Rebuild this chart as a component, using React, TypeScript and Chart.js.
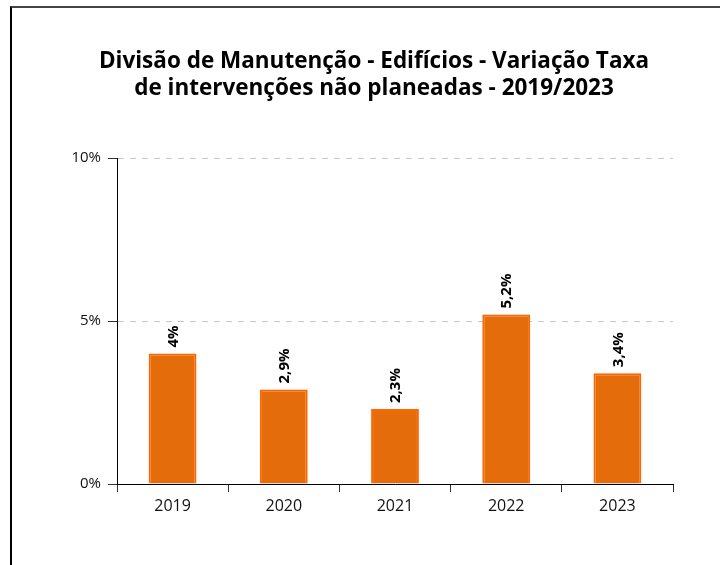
import React, { useEffect, useRef } from "react";
import { Chart, registerables } from "chart.js";

Chart.register(...registerables);

const categories: string[] = ["2019", "2020", "2021", "2022", "2023"];
const values: number[] = [4, 2.9, 2.3, 5.2, 3.4];
const titleLines: string[] = [
  "Divisão de Manutenção - Edifícios - Variação Taxa",
  "de intervenções não planeadas - 2019/2023",
];
const yMin = 0;
const yMax = 10;
const yStep = 5;

const fmt = (v: number) => String(v).replace(".", ",") + "%";

const titlePlugin = {
  id: "customTitle",
  afterDraw(chart: any) {
    const ctx = chart.ctx;
    ctx.save();
    ctx.font = "bold 22.5px 'Open Sans'";
    ctx.fillStyle = "#000";
    ctx.textAlign = "center";
    ctx.textBaseline = "middle";
    ctx.fillText(titleLines[0], 374, 62);
    ctx.fillText(titleLines[1], 374, 89);
    ctx.restore();
  },
};

const labelPlugin = {
  id: "barLabels",
  afterDatasetsDraw(chart: any) {
    const ctx = chart.ctx;
    const meta = chart.getDatasetMeta(0);
    ctx.save();
    ctx.font = "bold 15px 'Open Sans'";
    ctx.fillStyle = "#000";
    ctx.textAlign = "left";
    ctx.textBaseline = "middle";
    meta.data.forEach((bar: any, i: number) => {
      ctx.save();
      ctx.translate(bar.x, bar.y - 6);
      ctx.rotate(-Math.PI / 2);
      ctx.fillText(fmt(values[i]), 0, 1);
      ctx.restore();
    });
    ctx.restore();
  },
};

export default function App() {
  const ref = useRef<HTMLCanvasElement>(null);
  useEffect(() => {
    if (!ref.current) return;
    const chart = new Chart(ref.current, {
      type: "bar",
      data: {
        labels: categories,
        datasets: [
          {
            data: values,
            backgroundColor: "#E46C0A",
            borderColor: "#FF6600",
            borderWidth: 2,
            categoryPercentage: 1,
            barPercentage: 0.43,
          },
        ],
      },
      options: {
        animation: false,
        responsive: false,
        maintainAspectRatio: false,
        layout: { padding: { top: 158, left: 57, right: 47, bottom: 51 } },
        plugins: {
          legend: { display: false },
          title: { display: false },
          tooltip: { enabled: false },
        },
        scales: {
          x: {
            grid: {
              display: true,
              drawOnChartArea: false,
              drawTicks: true,
              tickLength: 8,
              tickColor: "#333",
              offset: true,
            },
            border: { display: true, color: "#000", width: 1 },
            ticks: {
              padding: 5,
              color: "#111",
              font: { family: "'Open Sans'", size: 16 },
            },
            afterFit(scale: any) {
              scale.height = 30;
            },
          },
          y: {
            min: yMin,
            max: yMax,
            ticks: {
              stepSize: yStep,
              padding: 7,
              color: "#111",
              font: { family: "'Open Sans'", size: 15 },
              callback: (v: any) => v + "%",
            },
            grid: {
              color: (c: any) => (c.tick && c.tick.value === 0 ? "rgba(0,0,0,0)" : "#C8C8C8"),
              tickColor: "#333",
              tickLength: 9,
              tickBorderDash: [],
              lineWidth: 1,
            },
            border: { display: true, color: "#000", width: 1, dash: [6, 6] },
            afterFit(scale: any) {
              scale.width = 60;
            },
          },
        },
      },
      plugins: [titlePlugin, labelPlugin],
    });
    return () => chart.destroy();
  }, []);

  return (
    <div style={{ position: "absolute", left: 0, top: 0, width: 720, height: 565, overflow: "hidden", background: "#fff" }}>
      <div
        style={{
          position: "absolute",
          left: 10,
          top: 6,
          width: 800,
          height: 700,
          borderLeft: "2px solid #000",
          borderTop: "2px solid #444",
        }}
      />
      <canvas ref={ref} width={720} height={565} style={{ position: "absolute", left: 0, top: 0 }} />
    </div>
  );
}
